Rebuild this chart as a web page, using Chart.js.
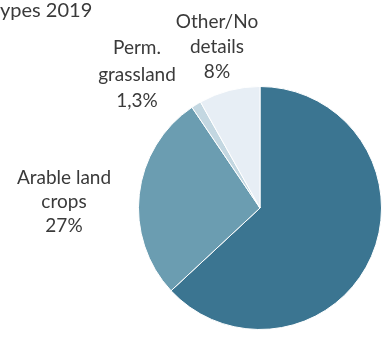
<!DOCTYPE html>
<html>
<head>
<meta charset="utf-8">
<script src="https://cdn.jsdelivr.net/npm/chart.js@4/dist/chart.umd.min.js"></script>
<style>
  html, body { margin: 0; padding: 0; background: #ffffff; overflow: hidden; }
  #wrap { position: relative; width: 382px; height: 338px; }
  canvas { position: absolute; left: 0; top: 0; }
  .lbl { position: absolute; font-family: Lato, "Open Sans", sans-serif; color: #3a3a3a;
         font-size: 19px; text-align: center; white-space: nowrap; transform: translateX(-50%); }
  .title { position: absolute; left: 0; top: -3px; font-family: Lato, "Open Sans", sans-serif;
           color: #3a3a3a; font-size: 20px; white-space: nowrap; }
</style>
</head>
<body>
<div id="wrap">
  <canvas id="c" width="382" height="338"></canvas>
</div>
<script>
// ---- data ----
const titleText = "ypes 2019";
const categories = ["Remaining", "Arable land crops", "Perm. grassland", "Other/No details"];
const shares = [62, 27, 1.3, 8];
const labelLines = [
  null,
  ["Arable land", "crops", "27%"],
  ["Perm.", "grassland", "1,3%"],
  ["Other/No", "details", "8%"]
];
const sliceColors = ["#3b7591", "#6b9db1", "#c3d7e1", "#e7eef5"];

// ---- layout (positions for text only) ----
const labelPos = [null, {x: 64, y: 165, lh: 24}, {x: 137, y: 34, lh: 26.5}, {x: 217, y: 8, lh: 25}];

const wrap = document.getElementById('wrap');
const t = document.createElement('div');
t.className = 'title';
t.textContent = titleText;
wrap.appendChild(t);

labelLines.forEach((lines, i) => {
  if (!lines) return;
  const d = document.createElement('div');
  d.className = 'lbl';
  d.style.left = labelPos[i].x + 'px';
  d.style.top = labelPos[i].y + 'px';
  d.style.lineHeight = labelPos[i].lh + 'px';
  lines.forEach((ln) => {
    const s = document.createElement('div');
    s.textContent = ln;
    d.appendChild(s);
  });
  wrap.appendChild(d);
});

new Chart(document.getElementById('c'), {
  type: 'pie',
  data: {
    labels: categories,
    datasets: [{
      data: shares,
      backgroundColor: sliceColors,
      borderColor: '#ffffff',
      borderWidth: 1
    }]
  },
  options: {
    responsive: false,
    animation: false,
    rotation: 0,
    layout: { padding: { left: 138, right: 0, top: 86, bottom: 8 } },
    plugins: { legend: { display: false }, tooltip: { enabled: false }, title: { display: false } }
  }
});
</script>
</body>
</html>
